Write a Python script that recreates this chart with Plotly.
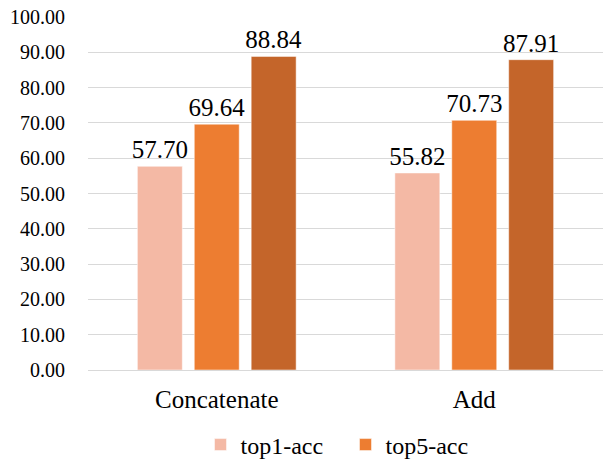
import plotly.graph_objects as go

categories = ["Concatenate", "Add"]
top1_acc = [57.70, 55.82]
top5_acc = [69.64, 70.73]
top10_acc = [88.84, 87.91]

series = [
    ("top1-acc", top1_acc, "#F4B9A5", True),
    ("top5-acc", top5_acc, "#ED7D31", True),
    ("top10-acc", top10_acc, "#C4652A", False),
]

font_family = "Liberation Serif"

fig = go.Figure()
for name, vals, color, in_legend in series:
    fig.add_trace(go.Bar(
        x=categories,
        y=vals,
        name=name,
        marker=dict(color=color, line=dict(color="white", width=0.5)),
        text=[f"{v:.2f}" for v in vals],
        textposition="outside",
        constraintext="none",
        textfont=dict(family=font_family, size=25, color="black"),
        cliponaxis=False,
        showlegend=in_legend,
    ))

fig.update_layout(
    width=603,
    height=464,
    margin=dict(l=88, r=0, t=17, b=94),
    paper_bgcolor="white",
    plot_bgcolor="white",
    barmode="group",
    bargap=0.337,
    bargroupgap=0.21,
    font=dict(family=font_family, color="black"),
    legend=dict(
        orientation="h",
        x=0.5,
        xanchor="center",
        xref="paper",
        y=0.041,
        yanchor="middle",
        yref="container",
        font=dict(family=font_family, size=24, color="black"),
        itemwidth=30,
        entrywidth=100,
        entrywidthmode="pixels",
    ),
    xaxis=dict(
        showline=False,
        ticks="",
        automargin=False,
        ticklabelstandoff=12,
        tickfont=dict(family=font_family, size=25, color="black"),
    ),
    yaxis=dict(
        range=[0, 100],
        dtick=10,
        tickformat=".2f",
        showgrid=True,
        gridcolor="#D9D9D9",
        gridwidth=1,
        zeroline=True,
        zerolinecolor="#D9D9D9",
        zerolinewidth=1,
        ticks="",
        ticklen=0,
        automargin=False,
        ticklabelstandoff=22,
        tickfont=dict(family=font_family, size=20, color="black"),
    ),
)

fig.write_html("out.html")
